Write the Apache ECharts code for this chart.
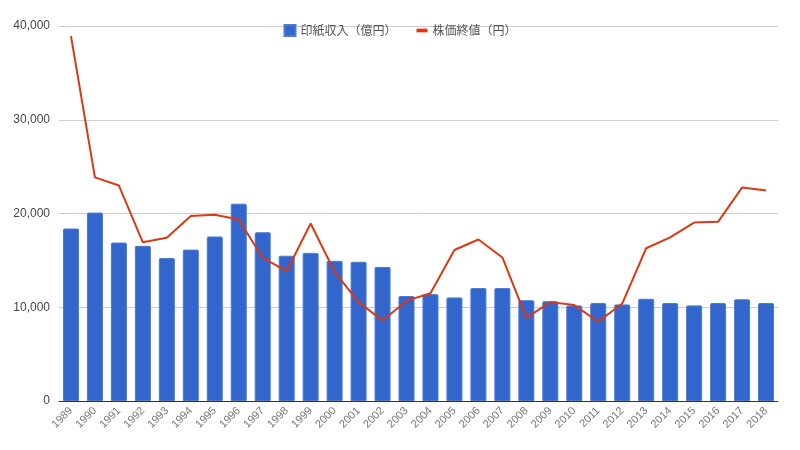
<!DOCTYPE html>
<html><head><meta charset="utf-8">
<script src="https://cdn.jsdelivr.net/npm/echarts@6/dist/echarts.min.js"></script>
<style>html,body{margin:0;padding:0;background:#fff}#c{width:800px;height:450px}</style>
</head><body><div id="c"></div>
<script>
const years = ['1989','1990','1991','1992','1993','1994','1995','1996','1997','1998','1999','2000','2001','2002','2003','2004','2005','2006','2007','2008','2009','2010','2011','2012','2013','2014','2015','2016','2017','2018'];
const stampRevenue = [18400,20100,16900,16550,15250,16150,17550,21050,18000,15500,15800,14950,14850,14300,11200,11400,11050,12050,12050,10750,10650,10200,10450,10300,10900,10450,10200,10450,10850,10450];
const stockPrice = [38916,23849,22984,16925,17417,19723,19868,19361,15259,13842,18934,13786,10543,8579,10677,11489,16111,17226,15308,8860,10546,10229,8455,10395,16291,17451,19034,19114,22765,22450];
const yTicks = [0,10000,20000,30000,40000];
const seriesNames = ['印紙収入（億円）','株価終値（円）'];

const chart = echarts.init(document.getElementById('c'));
const font = '"Noto Sans CJK JP", "Noto Sans", sans-serif';
chart.setOption({
  animation:false,
  textStyle:{fontFamily:font},
  legend:{
    top:19, left:'center', itemGap:20, itemWidth:11, itemHeight:11,
    textStyle:{color:'#555', fontSize:12, fontFamily:font},
    data:[{name:seriesNames[0], icon:'rect'},
          {name:seriesNames[1], icon:'path://M0,0 H12 V4 H0 Z', itemStyle:{color:'#dc3912'}}]
  },
  grid:{left:59, right:22, top:26, bottom:49},
  xAxis:{
    type:'category', data:years,
    axisLine:{lineStyle:{color:'#333', width:1}},
    axisTick:{show:false},
    axisLabel:{rotate:45, color:'#777', fontSize:11, margin:8, interval:0, fontFamily:'Arial, "Liberation Sans", sans-serif'}
  },
  yAxis:{
    type:'value', min:yTicks[0], max:yTicks[yTicks.length-1], interval:10000,
    axisLine:{show:false}, axisTick:{show:false},
    splitLine:{lineStyle:{color:'#ccc'}},
    axisLabel:{color:'#444', fontSize:12, margin:9, fontFamily:'Arial, "Liberation Sans", sans-serif',
      formatter:v=>v.toLocaleString('en-US')}
  },
  series:[
    {name:seriesNames[0], type:'bar', data:stampRevenue, barWidth:16,
     itemStyle:{color:'#3366cc', borderColor:'#4a7ad8', borderWidth:1, borderRadius:[1,1,0,0]}},
    {name:seriesNames[1], type:'line', data:stockPrice, symbol:'none', showSymbol:false,
     lineStyle:{color:'#dc3912', width:2}, itemStyle:{color:'#dc3912'}}
  ]
});
</script></body></html>
